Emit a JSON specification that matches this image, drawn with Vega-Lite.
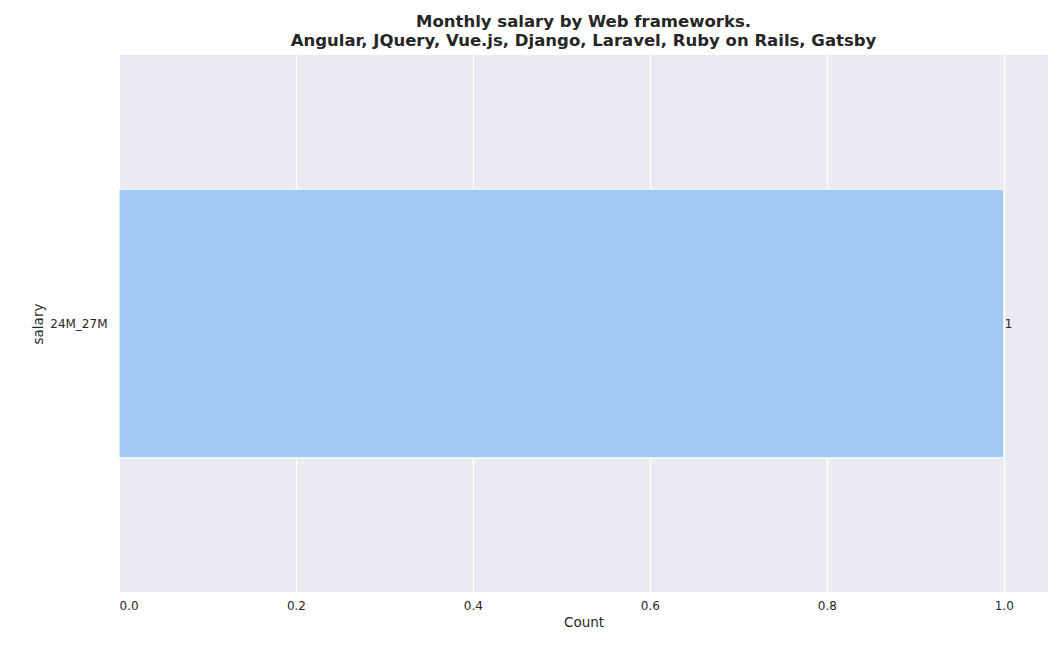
{
  "$schema": "https://vega.github.io/schema/vega-lite/v6.json",
  "width": 929,
  "height": 537,
  "autosize": "none",
  "padding": {"left": 119, "top": 55, "right": 11, "bottom": 64},
  "background": "white",
  "config": {
    "font": "DejaVu Sans",
    "view": {"fill": "#eaeaf2", "stroke": null},
    "axis": {
      "domain": false,
      "ticks": false,
      "gridColor": "white",
      "gridWidth": 1.2,
      "labelFontSize": 12,
      "labelColor": "#262626",
      "titleFontSize": 13.5,
      "titleFontWeight": "normal",
      "titleColor": "#262626"
    }
  },
  "title": {
    "text": ["Monthly salary by Web frameworks.", "Angular, JQuery, Vue.js, Django, Laravel, Ruby on Rails, Gatsby"],
    "fontSize": 16.5,
    "fontWeight": "bold",
    "color": "#262626",
    "anchor": "middle",
    "offset": 6
  },
  "data": {"values": [{"salary": "24M_27M", "count": 1}]},
  "encoding": {
    "y": {
      "field": "salary",
      "type": "nominal",
      "title": "salary",
      "scale": {"paddingInner": 0.5, "paddingOuter": 0.25},
      "axis": {"bandPosition": 0.5, "labelPadding": 12, "titleFontSize": 13.5}
    },
    "x": {
      "field": "count",
      "type": "quantitative",
      "title": "Count",
      "scale": {"domain": [0, 1.05], "nice": false},
      "axis": {"values": [0, 0.2, 0.4, 0.6, 0.8, 1.0], "format": ".1f", "labelPadding": 8}
    }
  },
  "layer": [
    {"mark": {"type": "bar", "color": "#a1c9f4", "stroke": "white", "strokeWidth": 1}},
    {
      "mark": {"type": "text", "align": "left", "dx": 1, "fontSize": 12, "color": "#262626"},
      "encoding": {"text": {"field": "count"}}
    }
  ]
}
